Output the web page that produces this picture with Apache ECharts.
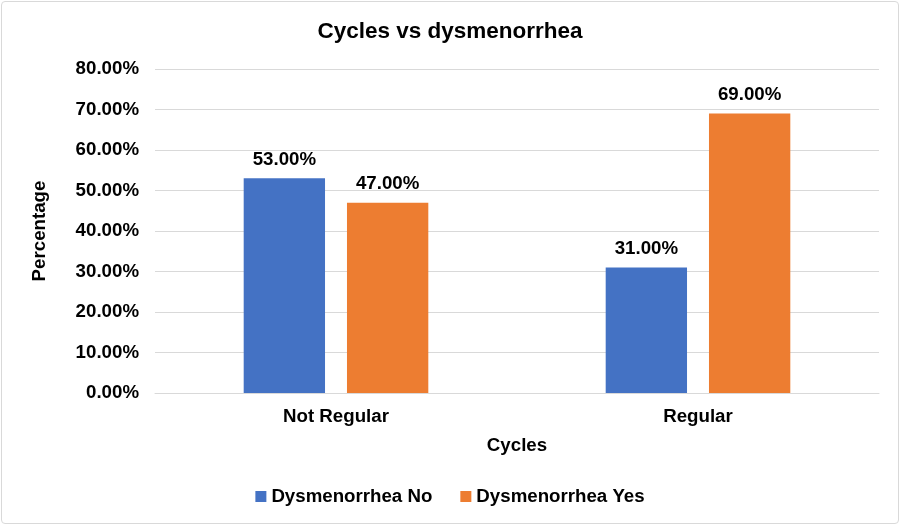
<!DOCTYPE html>
<html><head><meta charset="utf-8">
<script src="https://cdn.jsdelivr.net/npm/echarts@6/dist/echarts.min.js"></script>
<style>
html,body{margin:0;padding:0;background:#fff;}
#wrap{position:absolute;left:1px;top:1px;width:898px;height:523px;border:1px solid #d9d9d9;border-radius:4px;box-sizing:border-box;}
#c{width:900px;height:525px;position:absolute;left:0;top:0;}
</style></head>
<body>
<div id="wrap"></div>
<div id="c"></div>
<script>
const categories = ['Not Regular', 'Regular'];
const seriesNames = ['Dysmenorrhea No', 'Dysmenorrhea Yes'];
const dysNo = [53, 31];
const dysYes = [47, 69];
const colors = ['#4472C4', '#ED7D31'];
const font = 'Liberation Sans, Arial, sans-serif';
const fs = 18.7;

const chart = echarts.init(document.getElementById('c'));
const lbl = {show:true, position:'top', distance:9, formatter: p => p.value.toFixed(2) + '%', color:'#000', fontWeight:'bold', fontSize:fs, fontFamily:font};
chart.setOption({
  animation:false,
  color: colors,
  title:{text:'Cycles vs dysmenorrhea', left:'center', top:15, textStyle:{fontFamily:font, fontSize:22.5, fontWeight:'bold', color:'#000'}},
  legend:{top:482, left:'center', itemWidth:11, itemHeight:11, itemGap:28, icon:'rect', textStyle:{fontFamily:font, fontSize:fs, fontWeight:'bold', color:'#000'}, data:seriesNames},
  grid:{left:155, right:21, top:69, bottom:132},
  xAxis:{type:'category', data:categories, name:'Cycles', nameLocation:'middle', nameGap:43,
    nameTextStyle:{fontFamily:font, fontSize:fs, fontWeight:'bold', color:'#000'},
    axisLine:{lineStyle:{color:'#d9d9d9'}}, axisTick:{show:false},
    axisLabel:{fontFamily:font, fontSize:fs, fontWeight:'bold', color:'#000', margin:14}},
  yAxis:{type:'value', min:0, max:80, interval:10, name:'Percentage', nameLocation:'middle', nameGap:106, nameRotate:90,
    nameTextStyle:{fontFamily:font, fontSize:fs, fontWeight:'bold', color:'#000'},
    axisLabel:{formatter: v => v.toFixed(2) + '%', fontFamily:font, fontSize:fs, fontWeight:'bold', color:'#000', margin:16},
    splitLine:{lineStyle:{color:'#d9d9d9'}}, axisLine:{show:false}, axisTick:{show:false}},
  series:[
    {name:seriesNames[0], type:'bar', data:dysNo, barGap:'27%', barCategoryGap:'49%', label:lbl},
    {name:seriesNames[1], type:'bar', data:dysYes, label:lbl}
  ]
});
</script>
</body></html>
